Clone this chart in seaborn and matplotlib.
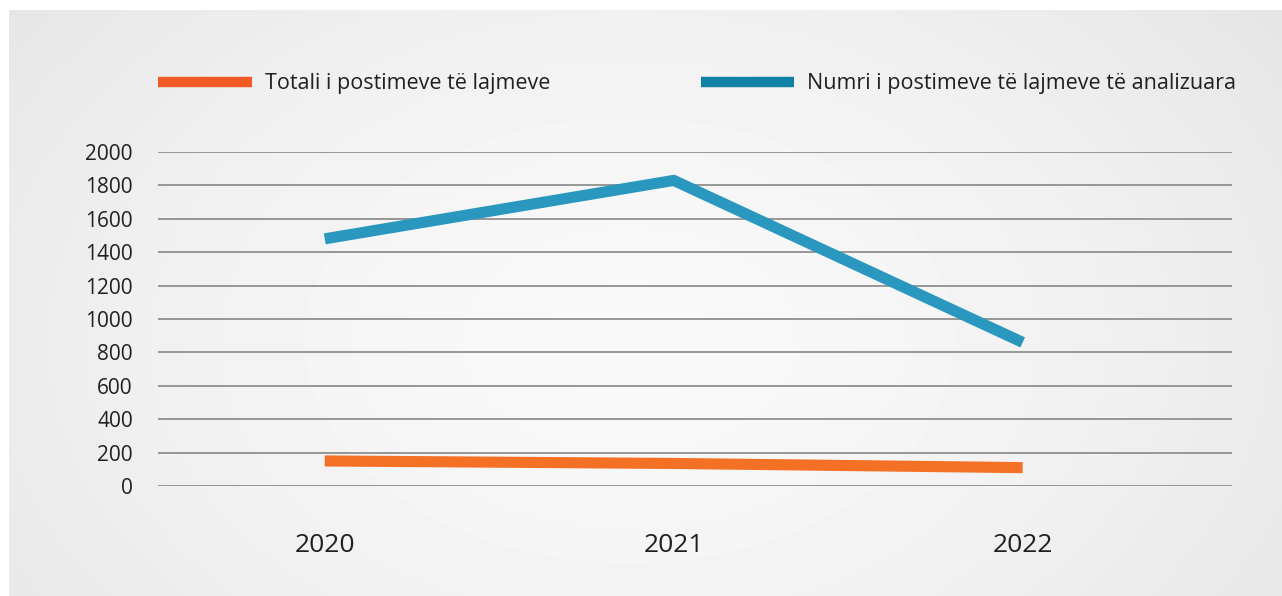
import numpy as np
import pandas as pd
import matplotlib
matplotlib.use('Agg')
import matplotlib.pyplot as plt
from matplotlib.lines import Line2D
import seaborn as sns

years = [2020, 2021, 2022]
totali = [150, 135, 110]
analizuara = [1480, 1830, 860]
series_names = ['Totali i postimeve të lajmeve', 'Numri i postimeve të lajmeve të analizuara']
line_colors = ['#F47025', '#2A97BE']
legend_colors = ['#F15A24', '#0F80A6']
y_ticks = [0, 200, 400, 600, 800, 1000, 1200, 1400, 1600, 1800, 2000]

df = pd.DataFrame({
    'year': years * 2,
    'value': totali + analizuara,
    'series': [series_names[0]] * 3 + [series_names[1]] * 3,
})

sns.set_theme(style='white')
plt.rcParams['font.family'] = ['Open Sans', 'DejaVu Sans']
text_color = '#231F20'

W, H = 1282, 596
fig = plt.figure(figsize=(W / 100, H / 100), dpi=100)
fig.patch.set_facecolor('white')

# gradient panel behind the chart
bg = fig.add_axes([9 / W, 0, (W - 9) / W, (H - 10) / H])
gy, gx = np.mgrid[0:586, 0:1273]
r = np.sqrt(((gx - 620) / 760) ** 2 + ((gy - 330) / 520) ** 2)
shade = 0.975 - 0.07 * np.clip(r, 0, 1.2) ** 1.6
bg.imshow(shade, cmap='gray', vmin=0, vmax=1, aspect='auto', interpolation='bilinear')
bg.axis('off')

ax = fig.add_axes([158 / W, 1 - 486 / H, (1232 - 158) / W, (486 - 152) / H])
ax.set_facecolor('none')
sns.lineplot(data=df, x='year', y='value', hue='series', palette=line_colors,
             linewidth=8, legend=False, ax=ax, solid_capstyle='butt',
             solid_joinstyle='round', zorder=3)

ax.set_ylim(0, 2000)
ax.set_xlim(2020 - 0.478, 2022 + 0.60)
ax.set_yticks(y_ticks)
ax.set_yticklabels([str(t) for t in y_ticks])
ax.set_xticks(years)
ax.set_xticklabels([str(y) for y in years])
ax.grid(axis='y', color='#8F8F8F', linewidth=1.3)
ax.grid(axis='x', visible=False)
for s in ax.spines.values():
    s.set_visible(False)
ax.tick_params(axis='y', length=0, pad=18, labelsize=15, labelcolor=text_color)
ax.tick_params(axis='x', length=0, pad=34, labelsize=19, labelcolor=text_color)
ax.set_xlabel('')
ax.set_ylabel('')

handles = [Line2D([0], [0], color=c, linewidth=7.5, solid_capstyle='butt') for c in legend_colors]
fig.legend(handles, series_names, loc='center left',
           bbox_to_anchor=(158 / W, 1 - 84 / H), ncol=2, frameon=False,
           fontsize=15.5, handlelength=4.35, handletextpad=0.6, columnspacing=7.0,
           borderpad=0, borderaxespad=0, labelcolor=text_color)

fig.savefig('out.png', dpi=100)
